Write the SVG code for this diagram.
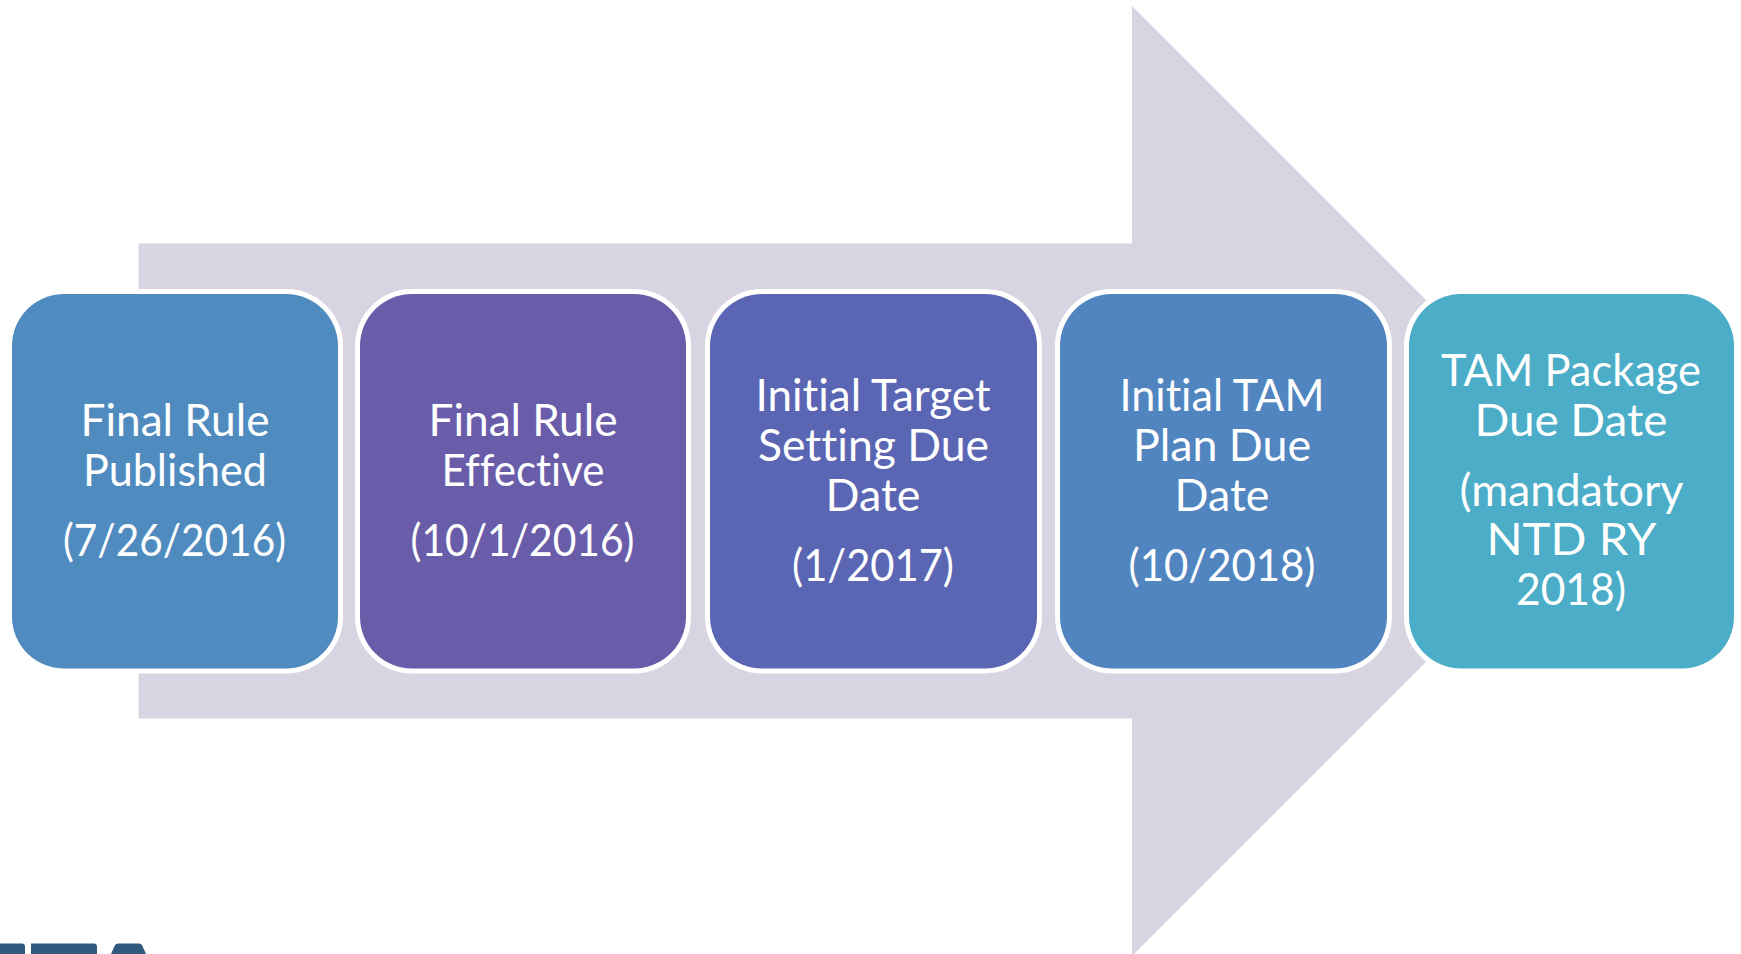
<svg xmlns="http://www.w3.org/2000/svg" width="1741" height="954" viewBox="0 0 1741 954">
<style>
.box{stroke:#fff;stroke-width:10;paint-order:stroke}
text{font-family:"Lato","Open Sans","Liberation Sans",sans-serif;font-size:45px;fill:#fff;text-anchor:middle;font-weight:400;font-variant-ligatures:none}
</style>
<rect width="1741" height="954" fill="#fff"/>
<polygon id="arrow" points="138.5,243.4 1132,243.4 1132,6 1607,481 1132,956 1132,718.4 138.5,718.4" fill="#d8d4e2"/>
<g id="logo" fill="#2f5a7e">
<path d="M0,943.5H22Q25,943.5 25,947V954H0Z"/>
<path d="M31,943.5H94Q97,943.5 97,947V954H31Z"/>
<path d="M111,954L115,945Q116,943.5 118,943.5H139Q141,943.5 142,945L146,954Z"/>
</g>
<g id="connectors"></g>
<g id="node1"><rect class="box" x="12" y="294" width="326" height="374.5" rx="52" fill="#508bbf"/>
<text x="175" y="435.5" textLength="189" lengthAdjust="spacingAndGlyphs">Final Rule</text><text x="175" y="486" textLength="184" lengthAdjust="spacingAndGlyphs">Published</text><text x="174.5" y="555.5" textLength="223" lengthAdjust="spacingAndGlyphs">(7/26/2016)</text></g>
<g id="node2"><rect class="box" x="360" y="294" width="326" height="374.5" rx="52" fill="#695daa"/>
<text x="523" y="435.5" textLength="189" lengthAdjust="spacingAndGlyphs">Final Rule</text><text x="523" y="486" textLength="163" lengthAdjust="spacingAndGlyphs">Effective</text><text x="522.5" y="555.5" textLength="224" lengthAdjust="spacingAndGlyphs">(10/1/2016)</text></g>
<g id="node3"><rect class="box" x="710" y="294" width="327" height="374.5" rx="52" fill="#5a66b3"/>
<text x="873" y="410.5" textLength="235" lengthAdjust="spacingAndGlyphs">Initial Target</text><text x="873.5" y="461" textLength="231" lengthAdjust="spacingAndGlyphs">Setting Due</text><text x="873" y="510.5" textLength="95" lengthAdjust="spacingAndGlyphs">Date</text><text x="873" y="580.5" textLength="162" lengthAdjust="spacingAndGlyphs">(1/2017)</text></g>
<g id="node4"><rect class="box" x="1060" y="294" width="327" height="374.5" rx="52" fill="#5085bf"/>
<text x="1222" y="410.5" textLength="205" lengthAdjust="spacingAndGlyphs">Initial TAM</text><text x="1222" y="461" textLength="178" lengthAdjust="spacingAndGlyphs">Plan Due</text><text x="1222" y="510.5" textLength="95" lengthAdjust="spacingAndGlyphs">Date</text><text x="1222" y="580.5" textLength="187" lengthAdjust="spacingAndGlyphs">(10/2018)</text></g>
<g id="node5"><rect class="box" x="1409" y="294" width="325" height="374.5" rx="52" fill="#4badc7"/>
<text x="1571" y="385.5" textLength="260" lengthAdjust="spacingAndGlyphs">TAM Package</text><text x="1571" y="435.5" textLength="193" lengthAdjust="spacingAndGlyphs">Due Date</text><text x="1571.5" y="505.5" textLength="224" lengthAdjust="spacingAndGlyphs">(mandatory</text><text x="1571.5" y="554.5" textLength="170" lengthAdjust="spacingAndGlyphs">NTD RY</text><text x="1571" y="604.5" textLength="110" lengthAdjust="spacingAndGlyphs">2018)</text></g>
</svg>
